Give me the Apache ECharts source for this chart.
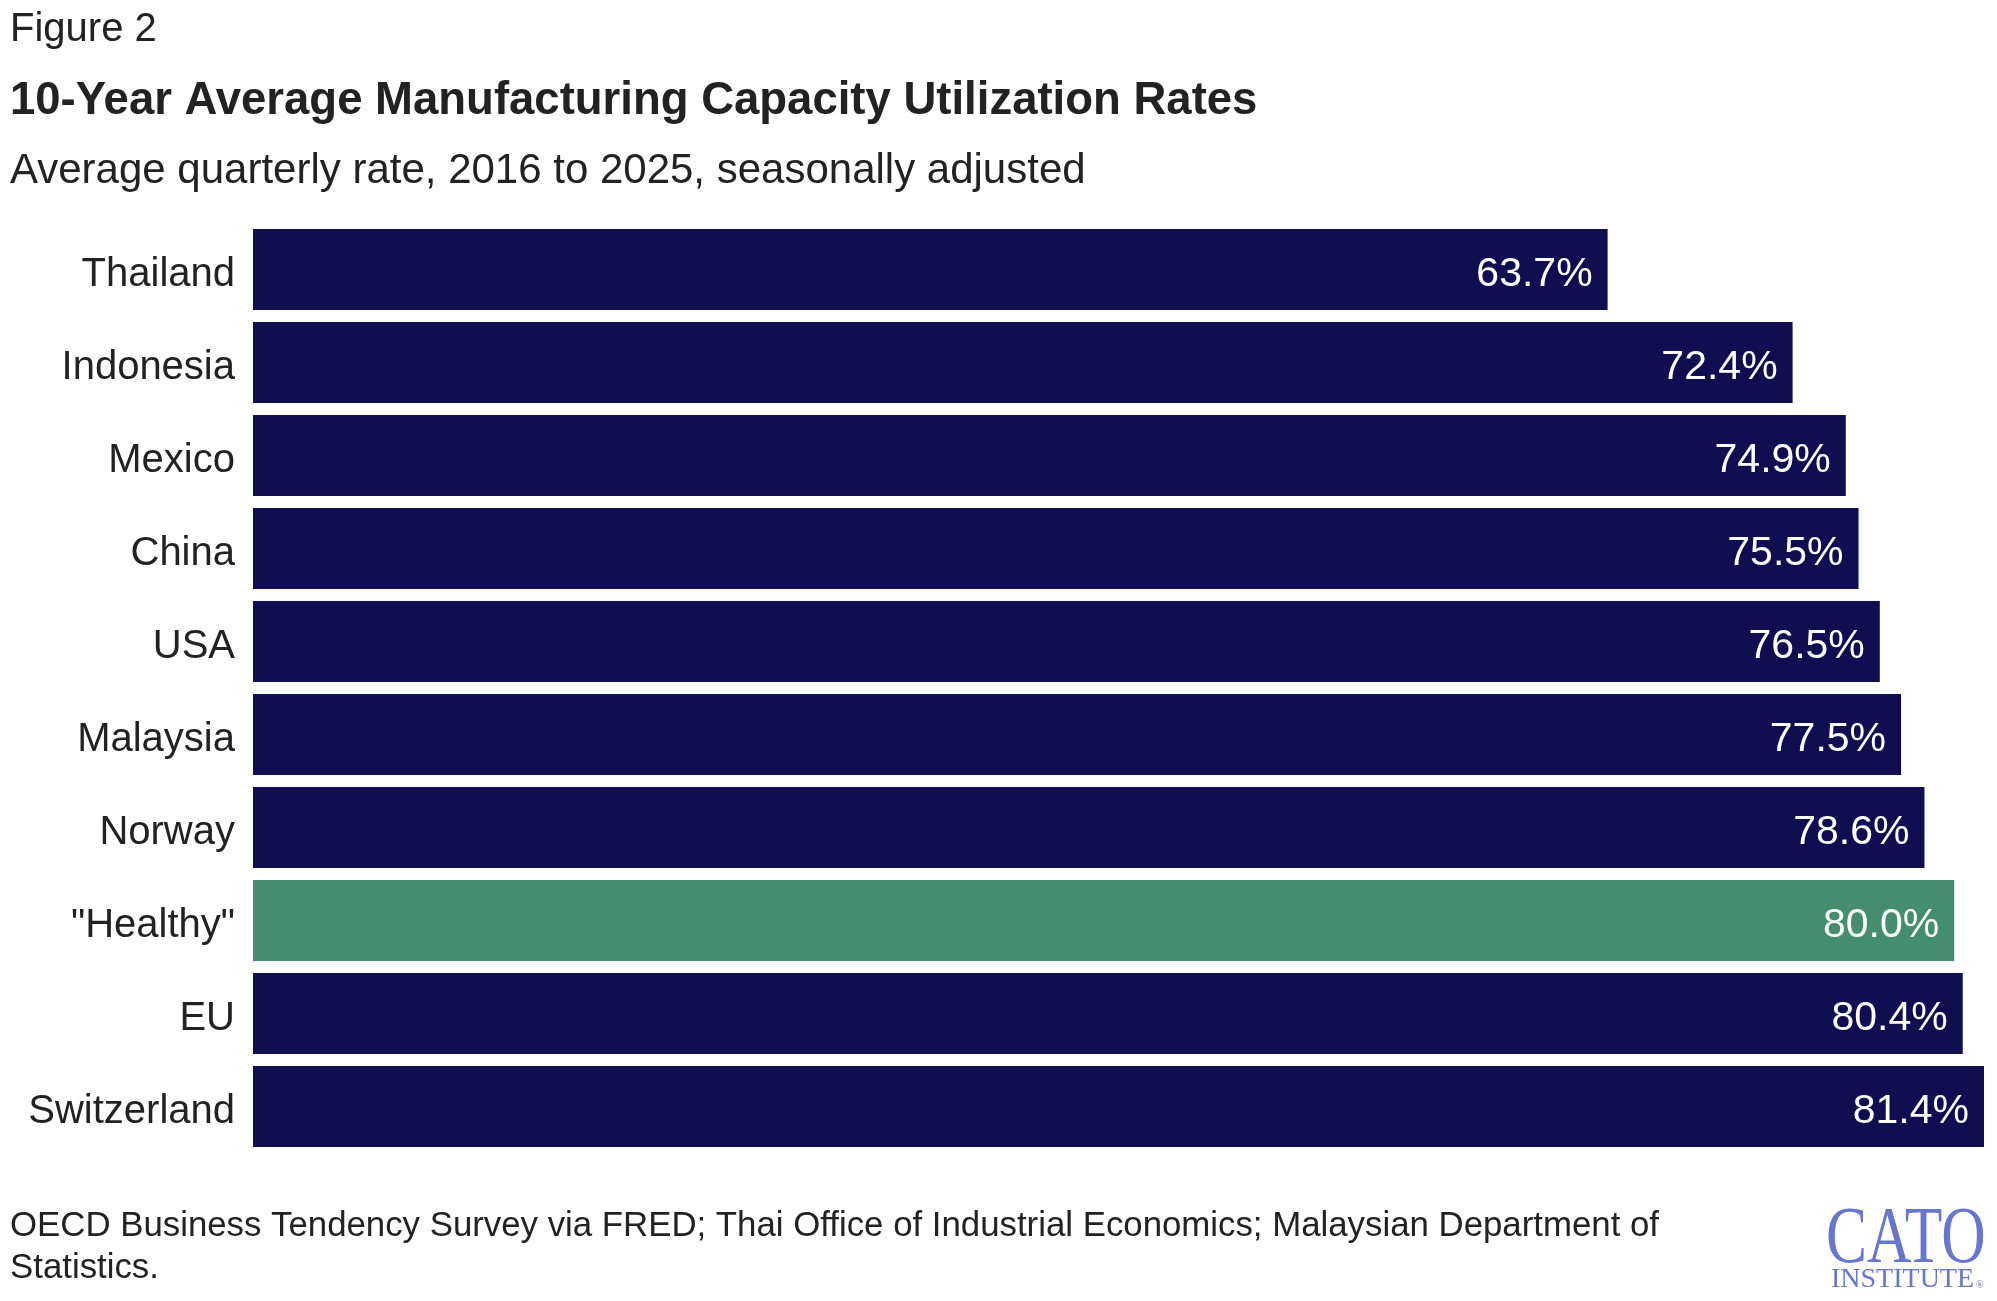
<!DOCTYPE html>
<html>
<head>
<meta charset="utf-8">
<script src="https://cdn.jsdelivr.net/npm/echarts@6/dist/echarts.min.js"></script>
<style>
html,body{margin:0;padding:0;background:#fff;}
#chart{width:1997px;height:1301px;}
</style>
</head>
<body>
<div id="chart"></div>
<script>
const categories = ['Thailand', 'Indonesia', 'Mexico', 'China', 'USA', 'Malaysia', 'Norway', '"Healthy"', 'EU', 'Switzerland'];
const values = [63.7, 72.4, 74.9, 75.5, 76.5, 77.5, 78.6, 80.0, 80.4, 81.4];
const highlightCategory = '"Healthy"';

const NAVY = '#0E0E50';
const GREEN = '#448E6F';
const TEXT = '#222222';
const LOGO = '#6677CC';
const FONT = '"Liberation Sans", Arial, sans-serif';

const chart = echarts.init(document.getElementById('chart'));
chart.setOption({
  animation: false,
  backgroundColor: '#ffffff',
  grid: { left: 253, right: 13, top: 223, bottom: 148, containLabel: false },
  xAxis: {
    type: 'value', min: 0, max: 81.4,
    show: false
  },
  yAxis: {
    type: 'category', data: categories, inverse: true,
    axisLine: { show: false }, axisTick: { show: false },
    axisLabel: {
      color: TEXT, fontSize: 40, fontFamily: FONT, margin: 18,
      formatter: v => '{a|' + v + '}',
      rich: { a: { color: TEXT, fontSize: 40, fontFamily: FONT, padding: [11, 0, 0, 0] } }
    }
  },
  series: [{
    type: 'bar',
    data: values.map((v, i) => ({
      value: v,
      itemStyle: { color: categories[i] === highlightCategory ? GREEN : NAVY }
    })),
    barCategoryGap: '13%',
    label: {
      show: true, position: 'insideRight', distance: 15, offset: [0, 5],
      color: '#ffffff', fontSize: 41, fontFamily: FONT,
      formatter: p => p.value.toFixed(1) + '%'
    }
  }],
  graphic: [
    { type: 'text', x: 10, y: 30, style: { text: 'Figure 2', fill: TEXT, font: '40px ' + FONT, verticalAlign: 'middle' } },
    { type: 'text', x: 10, y: 101, style: { text: '10-Year Average Manufacturing Capacity Utilization Rates', fill: TEXT, font: 'bold 45.5px ' + FONT, verticalAlign: 'middle' } },
    { type: 'text', x: 10, y: 171, style: { text: 'Average quarterly rate, 2016 to 2025, seasonally adjusted', fill: TEXT, font: '42px ' + FONT, verticalAlign: 'middle' } },
    { type: 'text', x: 10, y: 1226, style: { text: 'OECD Business Tendency Survey via FRED; Thai Office of Industrial Economics; Malaysian Department of', fill: TEXT, font: '34.8px ' + FONT, verticalAlign: 'middle' } },
    { type: 'text', x: 10, y: 1268, style: { text: 'Statistics.', fill: TEXT, font: '34.8px ' + FONT, verticalAlign: 'middle' } },
    { type: 'text', x: 1826, y: 1200, scaleX: 0.76, style: { text: 'CATO', fill: LOGO, font: '81px "Liberation Serif", serif' } },
    { type: 'text', x: 1831, y: 1266, style: { text: 'INSTITUTE', fill: LOGO, font: '28px "Liberation Serif", serif' } },
    { type: 'text', x: 1976, y: 1280, style: { text: '®', fill: LOGO, font: '10px "Liberation Serif", serif' } }
  ]
});
</script>
</body>
</html>
